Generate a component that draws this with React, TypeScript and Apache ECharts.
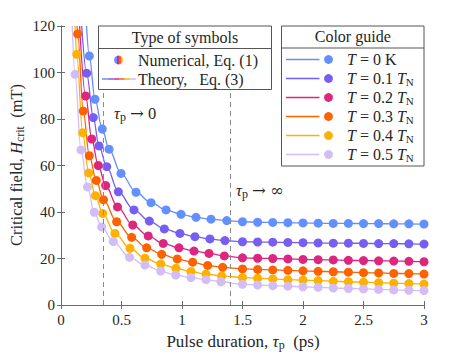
import React, { useEffect, useRef } from 'react';
import * as echarts from 'echarts';

// ---------- data ----------
const curveNames = ['T = 0 K', 'T = 0.1 TN', 'T = 0.2 TN', 'T = 0.3 TN', 'T = 0.4 TN', 'T = 0.5 TN'];
const curveLabels = ['{it|T} = 0 K', '{it|T} = 0.1 {it|T}{sub|N}', '{it|T} = 0.2 {it|T}{sub|N}', '{it|T} = 0.3 {it|T}{sub|N}', '{it|T} = 0.4 {it|T}{sub|N}', '{it|T} = 0.5 {it|T}{sub|N}'];
const curveColors = ['#648FFF', '#785EF0', '#DC267F', '#FE6100', '#FFB000', '#D3BDF7'];

const flatTau = [1.5, 1.625, 1.75, 1.875, 2.0, 2.125, 2.25, 2.375, 2.5, 2.625, 2.75, 2.875, 3.0];

const steep0 = [[0.234, 107.1], [0.281, 88.5], [0.341, 75.7], [0.397, 67.0], [0.496, 56.6], [0.62, 48.5], [0.744, 44.0], [0.868, 40.9], [0.992, 39.0], [1.116, 37.7], [1.24, 36.9], [1.37, 36.3]];
const flat0 = [35.8, 35.6, 35.5, 35.4, 35.3, 35.2, 35.1, 35.1, 35.0, 35.0, 34.9, 34.9, 34.8];

const steep1 = [[0.212, 99.7], [0.267, 80.6], [0.314, 68.4], [0.378, 59.5], [0.474, 48.7], [0.603, 40.9], [0.73, 36.1], [0.854, 32.7], [0.983, 30.8], [1.107, 29.4], [1.231, 28.4], [1.355, 27.7]];
const flat1 = [27.2, 27.1, 27.0, 26.9, 26.8, 26.7, 26.6, 26.6, 26.5, 26.4, 26.4, 26.3, 26.2];

const steep2 = [[0.204, 89.9], [0.254, 71.4], [0.308, 60.0], [0.369, 51.4], [0.467, 42.2], [0.593, 34.4], [0.721, 29.7], [0.845, 26.5], [0.975, 24.6], [1.099, 23.2], [1.223, 22.2], [1.35, 21.1]];
const flat2 = [20.3, 20.1, 20.0, 19.8, 19.6, 19.5, 19.4, 19.2, 19.1, 19.0, 18.9, 18.8, 18.6];

const steep3 = [[0.138, 116.6], [0.184, 83.4], [0.234, 64.2], [0.292, 53.6], [0.351, 45.3], [0.46, 35.8], [0.584, 29.1], [0.708, 24.6], [0.832, 21.8], [0.961, 19.8], [1.088, 18.4], [1.212, 17.0], [1.336, 16.2]];
const flat3 = [15.5, 15.3, 15.1, 14.9, 14.7, 14.5, 14.3, 14.1, 13.9, 13.8, 13.6, 13.5, 13.3];

const steep4 = [[0.13, 107.8], [0.179, 74.1], [0.229, 56.8], [0.285, 47.0], [0.345, 39.4], [0.446, 30.8], [0.57, 24.4], [0.694, 20.1], [0.824, 17.6], [0.95, 15.8], [1.074, 14.4], [1.198, 13.3], [1.328, 12.5]];
const flat4 = [11.8, 11.5, 11.2, 10.9, 10.7, 10.5, 10.2, 10.0, 9.8, 9.6, 9.4, 9.2, 9.0];

const steep5 = [[0.116, 99.2], [0.165, 66.7], [0.219, 50.8], [0.275, 39.9], [0.336, 33.6], [0.432, 27.3], [0.566, 20.5], [0.694, 17.2], [0.824, 14.6], [0.948, 12.9], [1.074, 11.8], [1.198, 10.9], [1.322, 10.0]];
const flat5 = [8.9, 8.6, 8.3, 8.1, 7.8, 7.6, 7.3, 7.1, 6.9, 6.7, 6.5, 6.3, 6.2];

// where each theory line leaves the top of the frame (H = 120)
const topEdgeTau = [0.211, 0.171, 0.154, 0.133, 0.116, 0.093];
const axisMaxH = 120;

const steepSets = [steep0, steep1, steep2, steep3, steep4, steep5];
const flatSets = [flat0, flat1, flat2, flat3, flat4, flat5];

const dashedTau = [0.35, 1.4];
const xTicks = [0, 0.5, 1, 1.5, 2, 2.5, 3];

// ---------- styles ----------
const FONT = '"Liberation Serif", "DejaVu Serif", serif';
const ARROW_FONT = '"DejaVu Serif", serif';
const AX = '#6a6a6a';
const TXT = '#262626';
const BOXC = '#555555';

function numerical(i: number) {
  const s = steepSets[i].map((p) => [p[0], p[1]]);
  const f = flatTau.map((t, k) => [t, flatSets[i][k]]);
  return s.concat(f);
}

const richBase = (size: number) => ({
  it: { fontFamily: FONT, fontStyle: 'italic', fontSize: size, fill: TXT },
  sub: { fontFamily: FONT, fontSize: Math.round(size * 0.7), fill: TXT, padding: [Math.round(size * 0.45), 0, 0, 0] },
  ar: { fontFamily: ARROW_FONT, fontSize: size, fill: TXT },
  n: { fontFamily: FONT, fontSize: size, fill: TXT },
});

function buildOption() {
  const series: any[] = [];
  for (let i = 0; i < 6; i++) {
    const pts = numerical(i);
    series.push({
      type: 'line',
      name: curveNames[i] + ' theory',
      data: [[topEdgeTau[i], axisMaxH]].concat(pts),
      smooth: 0.35,
      smoothMonotone: 'x',
      showSymbol: false,
      symbol: 'none',
      lineStyle: { color: curveColors[i], width: 1.3 },
      z: 3,
      silent: true,
    });
    series.push({
      type: 'scatter',
      name: curveNames[i],
      data: pts,
      symbol: 'circle',
      symbolSize: 9,
      itemStyle: { color: curveColors[i], opacity: 1 },
      z: 4,
      silent: true,
    });
  }
  series.push({
    type: 'line',
    data: [],
    silent: true,
    z: 1,
    markLine: {
      silent: true,
      symbol: 'none',
      label: { show: false },
      lineStyle: { type: [5, 4], color: '#8a8a8a', width: 1 },
      data: dashedTau.map((t) => ({ xAxis: t })),
    },
  });

  const axisCommon = {
    type: 'value',
    splitLine: { show: false },
    axisLine: { show: true, lineStyle: { color: AX, width: 1 } },
    axisTick: { show: true, inside: true, length: 4, lineStyle: { color: AX } },
  };

  const LF = 16;
  const graphics: any[] = [];
  // Type of symbols box
  const b1 = { x: 98.5, y: 26, w: 173, h: 63.5 };
  graphics.push({ type: 'rect', shape: { x: b1.x, y: b1.y, width: b1.w, height: b1.h }, style: { fill: '#fff', stroke: BOXC, lineWidth: 1 }, z: 100 });
  graphics.push({ type: 'line', shape: { x1: b1.x, y1: 48.5, x2: b1.x + b1.w, y2: 48.5 }, style: { stroke: BOXC, lineWidth: 1 }, z: 101 });
  graphics.push({ type: 'text', x: b1.x + b1.w / 2, y: 37, style: { text: 'Type of symbols', font: `${LF}px ${FONT}`, fill: TXT, align: 'center', verticalAlign: 'middle' }, z: 102 });
  graphics.push({
    type: 'circle', shape: { cx: 118.5, cy: 60, r: 4.4 },
    style: {
      fill: new echarts.graphic.LinearGradient(0, 0, 1, 0, [
        { offset: 0, color: curveColors[0] }, { offset: 0.34, color: curveColors[0] },
        { offset: 0.34, color: curveColors[2] }, { offset: 0.56, color: curveColors[2] },
        { offset: 0.56, color: curveColors[3] }, { offset: 0.74, color: curveColors[3] },
        { offset: 0.74, color: curveColors[4] }, { offset: 1, color: curveColors[4] },
      ]),
    },
    z: 102,
  });
  graphics.push({ type: 'text', x: 138, y: 60, style: { text: 'Numerical, Eq. (1)', font: `${LF}px ${FONT}`, fill: TXT, align: 'left', verticalAlign: 'middle' }, z: 102 });
  const segW = 34 / 6;
  for (let i = 0; i < 6; i++) {
    graphics.push({ type: 'line', shape: { x1: 102 + i * segW, y1: 79, x2: 102 + (i + 1) * segW, y2: 79 }, style: { stroke: curveColors[i], lineWidth: 1.5 }, z: 102 });
  }
  graphics.push({ type: 'text', x: 138, y: 79, style: { text: 'Theory,   Eq. (3)', font: `${LF}px ${FONT}`, fill: TXT, align: 'left', verticalAlign: 'middle' }, z: 102 });

  // Color guide box
  const b2 = { x: 281.5, y: 26, w: 142.5, h: 140 };
  graphics.push({ type: 'rect', shape: { x: b2.x, y: b2.y, width: b2.w, height: b2.h }, style: { fill: '#fff', stroke: BOXC, lineWidth: 1 }, z: 100 });
  graphics.push({ type: 'line', shape: { x1: b2.x, y1: 48, x2: b2.x + b2.w, y2: 48 }, style: { stroke: BOXC, lineWidth: 1 }, z: 101 });
  graphics.push({ type: 'text', x: b2.x + b2.w / 2, y: 36.5, style: { text: 'Color guide', font: `${LF}px ${FONT}`, fill: TXT, align: 'center', verticalAlign: 'middle' }, z: 102 });
  const rowY = [59.5, 78.5, 97.5, 116.5, 135.5, 154.5];
  for (let i = 0; i < 6; i++) {
    graphics.push({ type: 'line', shape: { x1: 286, y1: rowY[i], x2: 319.5, y2: rowY[i] }, style: { stroke: curveColors[i], lineWidth: 1.3 }, z: 102 });
    graphics.push({ type: 'circle', shape: { cx: 328.5, cy: rowY[i], r: 4.4 }, style: { fill: curveColors[i] }, z: 102 });
    graphics.push({ type: 'text', x: 347, y: rowY[i], style: { text: curveLabels[i], font: `${LF}px ${FONT}`, fill: TXT, align: 'left', verticalAlign: 'middle', rich: richBase(LF) }, z: 102 });
  }

  // annotations
  graphics.push({ type: 'text', x: 114, y: 113, style: { text: '{it|τ}{sub|p} {ar|→} 0', font: `16.5px ${FONT}`, fill: TXT, align: 'left', verticalAlign: 'middle', rich: richBase(16.5) }, z: 50 });
  graphics.push({ type: 'text', x: 236, y: 190, style: { text: '{it|τ}{sub|p} {ar|→} {ar|∞}', font: `16.5px ${FONT}`, fill: TXT, align: 'left', verticalAlign: 'middle', rich: richBase(16.5) }, z: 50 });

  // axis titles
  graphics.push({ type: 'text', x: 243, y: 341, style: { text: 'Pulse duration, {it|τ}{sub|p}  (ps)', font: `17px ${FONT}`, fill: TXT, align: 'center', verticalAlign: 'middle', rich: richBase(17) }, z: 50 });
  graphics.push({ type: 'text', x: 16, y: 165, rotation: Math.PI / 2, style: { text: 'Critical field, {it|H}{sub|crit}  (mT)', font: `16.5px ${FONT}`, fill: TXT, align: 'center', verticalAlign: 'middle', rich: richBase(16.5) }, z: 50 });

  return {
    animation: false,
    backgroundColor: '#ffffff',
    grid: { left: 61, right: 45, top: 26, bottom: 47, containLabel: false },
    xAxis: [
      {
        ...axisCommon, position: 'bottom', min: 0, max: 3, interval: 0.5,
        axisLabel: { color: TXT, fontFamily: FONT, fontSize: 15, margin: 7, formatter: (v: number) => (xTicks.indexOf(v) >= 0 ? String(v) : '') },
      },
      { ...axisCommon, position: 'top', min: 0, max: 3, interval: 0.5, axisLabel: { show: false } },
    ],
    yAxis: [
      { ...axisCommon, position: 'left', min: 0, max: 120, interval: 20, axisLabel: { color: TXT, fontFamily: FONT, fontSize: 15, margin: 6 } },
      { ...axisCommon, position: 'right', min: 0, max: 120, interval: 20, axisLabel: { show: false } },
    ],
    series,
    graphic: graphics,
  };
}

export default function App() {
  const ref = useRef<HTMLDivElement>(null);
  useEffect(() => {
    if (!ref.current) return;
    const chart = echarts.init(ref.current, null, { renderer: 'svg' });
    chart.setOption(buildOption() as any);
    return () => chart.dispose();
  }, []);
  return <div ref={ref} style={{ position: 'fixed', left: 0, top: 0, width: 469, height: 352, background: '#fff' }} />;
}
